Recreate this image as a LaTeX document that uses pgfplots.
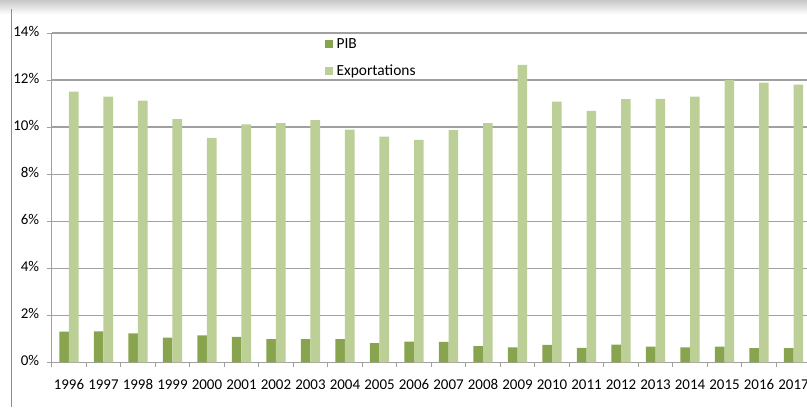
\documentclass[border=0pt]{standalone}
\usepackage{pgfplots}
\pgfplotsset{compat=1.18}
\usepackage{fontspec}
\setmainfont{Carlito}
\definecolor{pib}{RGB}{137,164,78}
\definecolor{exp}{RGB}{187,207,151}
\definecolor{gridc}{RGB}{160,160,160}
\begin{document}
\begin{tikzpicture}[x=1bp,y=1bp]
\useasboundingbox (-51.7,-44.7) rectangle (755.3,362.3);
\shade[top color=black!22, bottom color=white] (-51.7,348) rectangle (755.3,362.3);
\draw[black!45, line width=0.9bp] (-40,-44.7) -- (-40,353);
\begin{axis}[
  at={(0,0)}, anchor=south west,
  scale only axis, width=755.3bp, height=329.3bp,
  ybar=0pt, bar width=0.28,
  xmin=-0.5, xmax=21.39, ymin=0, ymax=14,
  xtick={0,...,21},
  xticklabels={1996,1997,1998,1999,2000,2001,2002,2003,2004,2005,2006,2007,2008,2009,2010,2011,2012,2013,2014,2015,2016,2017},
  minor xtick={-0.5,0.5,...,21.5},
  ytick={0,2,...,14},
  yticklabels={0\%,2\%,4\%,6\%,8\%,10\%,12\%,14\%},
  axis x line*=bottom, axis y line*=left,
  axis line style={gridc, line width=1bp},
  x axis line style={-}, y axis line style={-},
  ymajorgrids, grid style={gridc, line width=1.2bp},
  major x tick style={draw=none},
  minor x tick style={gridc, line width=0.8bp},
  y tick style={gridc, line width=0.8bp},
  tick align=outside, major tick length=5bp, minor tick length=5bp,
  ticklabel style={font=\fontsize{15}{17}\selectfont},
  typeset ticklabels with strut,
  xticklabel style={yshift=-7bp},
  yticklabel style={xshift=-4bp},
  legend style={at={(0.361,0.99)}, anchor=north west, draw=none, fill=none,
    font=\fontsize{15.5}{17}\selectfont, inner sep=0pt, row sep=11bp,
    nodes={inner xsep=4bp}},
  legend cell align=left,
  legend image code/.code={\fill[#1] (0bp,-4bp) rectangle (8bp,4bp);},
]
\addplot[fill=pib, draw=none] coordinates {
(0,1.30) (1,1.32) (2,1.23) (3,1.05) (4,1.15) (5,1.08) (6,0.99) (7,0.99) (8,0.99) (9,0.82) (10,0.88)
(11,0.87) (12,0.69) (13,0.64) (14,0.74) (15,0.61) (16,0.75) (17,0.67) (18,0.64) (19,0.67) (20,0.60) (21,0.60)};
\addplot[fill=exp, draw=none] coordinates {
(0,11.51) (1,11.29) (2,11.12) (3,10.34) (4,9.54) (5,10.11) (6,10.17) (7,10.30) (8,9.89) (9,9.59) (10,9.46)
(11,9.87) (12,10.17) (13,12.65) (14,11.08) (15,10.69) (16,11.19) (17,11.20) (18,11.29) (19,12.01) (20,11.89) (21,11.81)};
\legend{PIB,Exportations}
\end{axis}
\end{tikzpicture}
\end{document}
